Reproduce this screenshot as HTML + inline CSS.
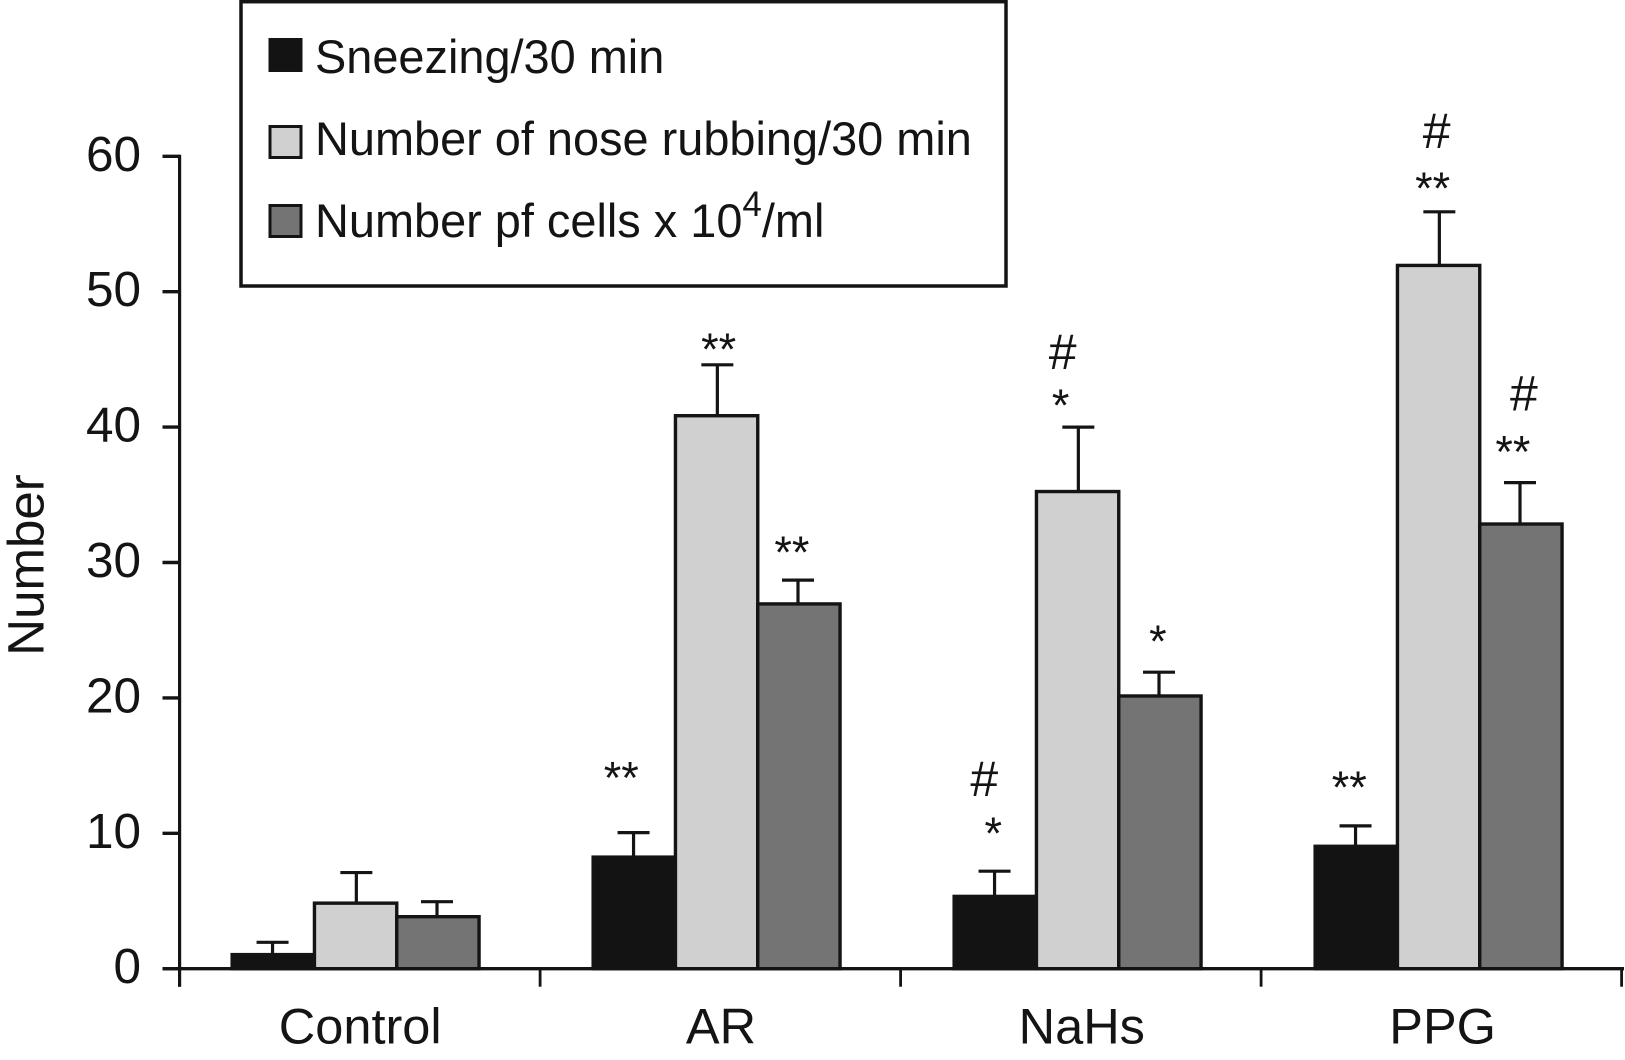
<!DOCTYPE html>
<html lang="en">
<head>
<meta charset="utf-8">
<title>Number by treatment group</title>
<style>
  html, body { margin: 0; padding: 0; background: #ffffff; }
  body { width: 1625px; height: 1060px; overflow: hidden; }
  svg { display: block; font-family: "Liberation Sans", Arial, sans-serif; fill: #141414; }
</style>
</head>
<body>
<svg id="chart" xmlns="http://www.w3.org/2000/svg" width="1625" height="1060" viewBox="0 0 1625 1060">
  <rect x="0" y="0" width="1625" height="1060" fill="#ffffff"/>
  <g id="axes"></g>
  <g id="marks"></g>
  <g id="sig"></g>
  <text transform="translate(43.5 565) rotate(-90)" text-anchor="middle" font-size="51">Number</text>
  <g>
    <rect x="241" y="1.7" width="765" height="284.3" fill="#ffffff" stroke="#141414" stroke-width="3.5"/>
    <g>
      <rect x="270" y="39.5" width="31" height="31" fill="#131313" stroke="#141414" stroke-width="3"/>
      <text x="315" y="73" font-size="46.9">Sneezing/30 min</text>
    </g>
    <g>
      <rect x="270" y="126.5" width="31" height="31" fill="#d0d0d0" stroke="#141414" stroke-width="3"/>
      <text x="315" y="155" font-size="46.9">Number of nose rubbing/30 min</text>
    </g>
    <g>
      <rect x="270" y="205.5" width="31" height="31" fill="#747474" stroke="#141414" stroke-width="3"/>
      <text x="315" y="237" font-size="46.9">Number pf cells x 10<tspan font-size="35" dy="-21">4</tspan><tspan dy="21">/ml</tspan></text>
    </g>
  </g>
</svg>
<script>
const categories = ['Control', 'AR', 'NaHs', 'PPG'];
const yTickLabels = [0, 10, 20, 30, 40, 50, 60];
const seriesNames = ['sneezing', 'nose-rubbing', 'cells'];
const sneezingValues = [1.1, 8.3, 5.4, 9.1];
const noseRubbingValues = [4.9, 40.9, 35.3, 52];
const cellsValues = [3.9, 27, 20.2, 32.9];
const sneezingErrors = [0.85, 1.75, 1.8, 1.45];
const noseRubbingErrors = [2.2, 3.7, 4.7, 3.9];
const cellsErrors = [1.05, 1.7, 1.7, 3.0];

const seriesValues = [sneezingValues, noseRubbingValues, cellsValues];
const seriesErrors = [sneezingErrors, noseRubbingErrors, cellsErrors];
const seriesFills = ['#131313', '#d0d0d0', '#747474'];

const NS = 'http://www.w3.org/2000/svg';
const INK = '#141414';
const axesG = document.getElementById('axes');
const marksG = document.getElementById('marks');
const sigG = document.getElementById('sig');

function yScale(v) { return 968.7 - v * 13.54; }
function xTick(i) { return 179.6 + 360.5 * i; }
function xLabel(i) { return 360.2 + 360.8 * i; }
function barLeft(g, s) { return 355.6 + 361 * g + (s - 1.5) * 82.3; }
function barCenter(g, s) { return barLeft(g, s) + 41.15; }
function errCenter(g, s) { return barCenter(g, s) + (s - 0.5) * 1.5 * (s === 2 ? -0.4 : 1); }

function make(tag, attrs, parent) {
  const el = document.createElementNS(NS, tag);
  for (const k in attrs) el.setAttribute(k, attrs[k]);
  parent.appendChild(el);
  return el;
}

/* y axis */
const yAxisLine = make('line', { x1: 179.6, x2: 179.6, y1: yScale(60) - 1.6, y2: 986.7, stroke: INK, 'stroke-width': 3.2 }, axesG);



yTickLabels.forEach(function (t) {
  const tick = make('line', { x1: 162.5, x2: 180, y1: yScale(t), y2: yScale(t), stroke: INK, 'stroke-width': 3.4 }, axesG);
  
  
  const label = make('text', { x: 141, y: yScale(t) + 14.5, 'text-anchor': 'end', 'font-size': 49.5 }, axesG);
  label.textContent = String(t);
  
  
});

/* x axis */
const xAxisLine = make('line', { x1: 162.5, x2: 1624, y1: yScale(0), y2: yScale(0), stroke: INK, 'stroke-width': 3.4 }, axesG);



for (let i = 0; i <= categories.length; i++) {
  const tick = make('line', { x1: xTick(i), x2: xTick(i), y1: yScale(0), y2: 986.7, stroke: INK, 'stroke-width': 2.8 }, axesG);
  
  
}

categories.forEach(function (c, i) {
  const label = make('text', { x: xLabel(i), y: 1043.5, 'text-anchor': 'middle', 'font-size': 50.5 }, axesG);
  label.textContent = c;
  
  
});

/* bars and error bars */
seriesValues.forEach(function (values, s) {
  values.forEach(function (v, g) {
    const top = yScale(v);
    const capY = yScale(v + seriesErrors[s][g]);
    const cx = errCenter(g, s);

    const stem = make('line', { x1: cx, x2: cx, y1: capY, y2: top + 1, stroke: INK, 'stroke-width': 3.2 }, marksG);
    
    

    const cap = make('line', { x1: cx - 16, x2: cx + 16, y1: capY, y2: capY, stroke: INK, 'stroke-width': 3.2 }, marksG);
    
    

    const bar = make('rect', {
      x: barLeft(g, s), y: top + 0.8, width: 82.3, height: yScale(0) - top - 0.8,
      fill: seriesFills[s], stroke: INK, 'stroke-width': 3.4
    }, marksG);
    
    
  });
});

/* significance marks, anchored to each error cap */
function sig(g, s, text, dx, dy) {
  const capY = yScale(seriesValues[s][g] + seriesErrors[s][g]);
  const isHash = text === '#';
  const el = make('text', {
    x: barCenter(g, s) + dx + 1, y: capY + dy + (isHash ? 0 : -2), 'text-anchor': 'middle',
    'font-size': isHash ? 50 : 45
  }, sigG);
  el.textContent = text;
  
  
}

sig(1, 0, '**', -14, -37);
sig(1, 1, '**', 1, 2);
sig(1, 2, '**', -8, -10);
sig(2, 0, '*', -3, -20);
sig(2, 0, '#', -12, -75);
sig(2, 1, '*', -18, -4);
sig(2, 1, '#', -16, -58);
sig(2, 2, '*', -3, -13);
sig(3, 0, '**', -8, -21);
sig(3, 1, '**', -7, -6);
sig(3, 1, '#', -3, -64);
sig(3, 2, '**', -9, -13);
sig(3, 2, '#', 2, -72);
</script>
</body>
</html>
